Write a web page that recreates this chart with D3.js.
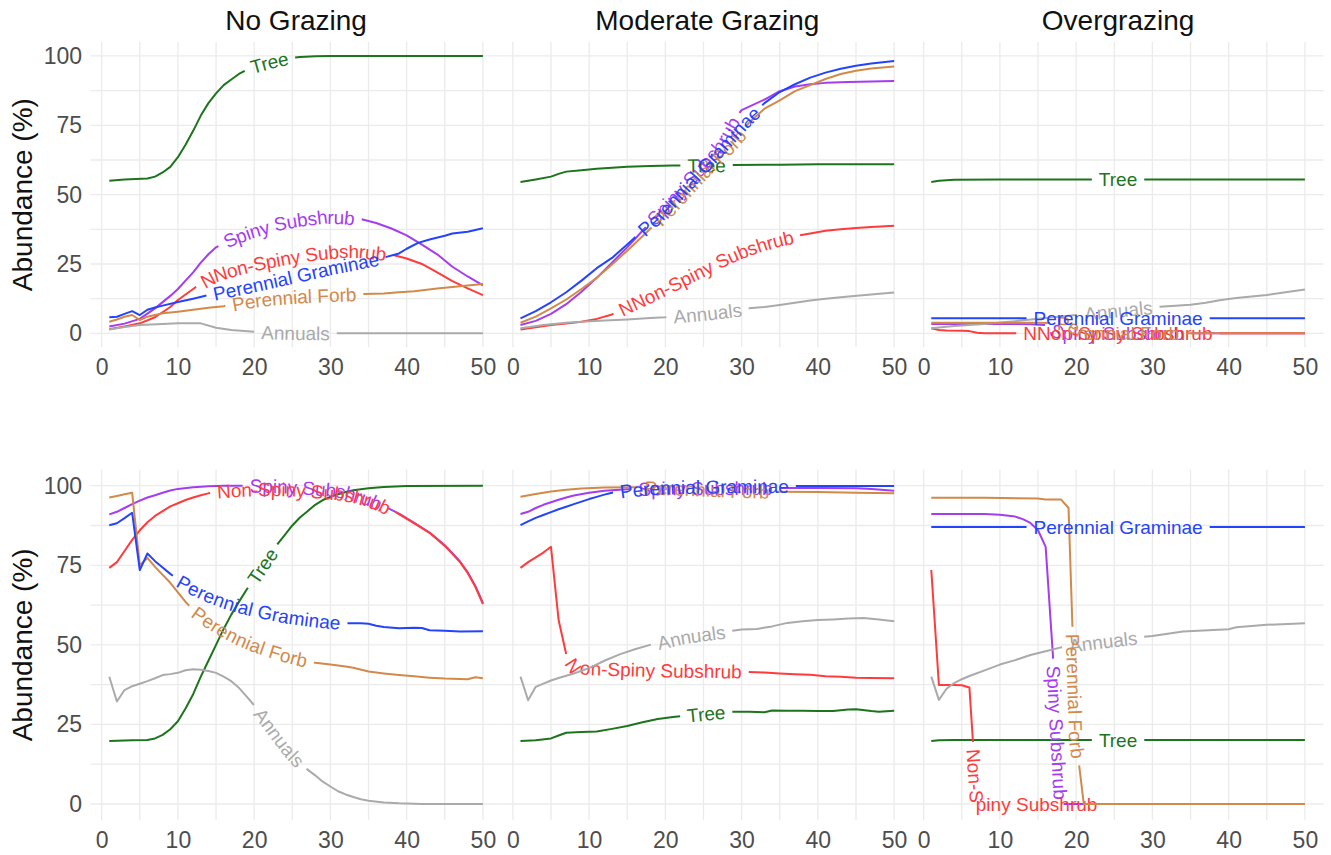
<!DOCTYPE html>
<html>
<head>
<meta charset="utf-8">
<title>Abundance under grazing scenarios</title>
<script src="https://cdn.jsdelivr.net/npm/d3@7"></script>
<style>
  body { margin: 0; background: #fff; }
  text { font-family: "Liberation Sans", Arial, Helvetica, sans-serif; }
</style>
</head>
<body>
<script>
// facet titles and axis ticks
var facetTitles = ["No Grazing", "Moderate Grazing", "Overgrazing"];
var xTicks = [0, 10, 20, 30, 40, 50];
var yTicks = [0, 25, 50, 75, 100];
var yTitle = "Abundance (%)";

// ---- top row: [year, abundance] ----
var ngTopTree = [[1,55],[3,55.5],[6,55.8],[7,56.5],[8,58],[9,60],[10,63.5],[11,68],[12,73],[13,78.5],[14,83],[15,86.5],[16,89.5],[17,91.5],[18,93.5],[19,95],[20,96.3],[22,97.8],[24,99],[26,99.6],[28,99.9],[30,100],[50,100]];
var ngTopSpiny = [[1,2.5],[3,3.5],[5,5.2],[7,9],[9,13.5],[10,16],[11,19],[12,22],[13,25.5],[14,28.5],[15,31],[17,34],[20,37],[23,39.5],[26,41],[29,42],[32,41.8],[34,41.2],[36,39.8],[38,37.8],[40,35.3],[42,32],[44,28.5],[46,24],[48,20.5],[50,17.3]];
var ngTopNonSpiny = [[1,1.5],[3,2.5],[5,3.6],[7,5.8],[9,9.5],[10,12],[11,14],[12,16],[13,18],[15,21],[18,23.5],[21,25.5],[25,27.5],[28,28.8],[31,29.6],[34,29.6],[36,29],[38,28.4],[40,27],[42,25],[44,22],[46,18.8],[48,16.2],[50,13.8]];
var ngTopGraminae = [[1,5.8],[2,6],[3,7],[4,8],[5,6.6],[6,8.5],[7,9.3],[8,10],[10,11.3],[12,12.5],[14,13.8],[16,15],[20,17.3],[25,20.3],[30,23.5],[35,26.2],[37,27.3],[39,28.8],[40,30.5],[41.5,32.6],[43,33.8],[45,35.2],[46,36],[48,36.6],[50,37.9]];
var ngTopForb = [[1,4.2],[2,5],[3,6],[4,6.6],[5,4.8],[6,6],[7,6.6],[8,7.2],[10,7.8],[12,8.5],[14,9.2],[16,9.8],[18,10.8],[20,11.8],[23,12.7],[26,13.3],[30,13.8],[34,14.2],[37,14.4],[39,14.8],[41,15.2],[44,16.2],[47,17],[50,17.8]];
var ngTopAnnuals = [[1,1.4],[3,2.3],[5,3],[8,3.4],[10,3.6],[13,3.6],[15,2],[17,1.2],[20,0.6],[23,0.3],[26,0.1],[30,0],[50,0]];

var mgTopTree = [[1,54.6],[3,55.5],[5,56.5],[6,57.5],[7,58.3],[9,58.8],[11,59.3],[13,59.7],[15,60.1],[18,60.3],[21,60.5],[25,60.6],[29,60.7],[35,60.8],[40,61],[45,61],[50,61]];
var mgTopSpiny = [[1,3],[3,4.5],[5,7],[7,10.5],[9,15],[11,20],[13,25.5],[15,31],[17,37],[19,43],[21,49],[23,55],[25,61],[27,67.5],[29,77],[30,80.5],[33,84.3],[35,87.3],[37,89],[39,89.8],[41,90.3],[44,90.6],[47,90.8],[50,91]];
var mgTopNonSpiny = [[1,1.4],[3,2.2],[5,3],[7,3.5],[9,4.2],[11,5.2],[13,6.8],[15,9.5],[17,12],[19,14.8],[21,17.5],[23,20.3],[25,23],[27,25.8],[29,28.3],[31,30.5],[33,32.3],[35,33.8],[37,35],[39,36],[41,37],[43,37.5],[45,38],[47,38.3],[50,38.8]];
var mgTopGraminae = [[1,5.4],[3,8],[5,11.2],[7,14.8],[9,19],[11,23.5],[13,27.2],[15,32],[17,37],[19,42],[21,48],[23,54],[25,60],[27,66],[29,72],[31,78],[33,83],[35,87],[37,89.8],[39,92.2],[41,94],[43,95.4],[45,96.5],[47,97.3],[50,98.2]];
var mgTopForb = [[1,3.8],[3,6],[5,9],[7,12.2],[9,16],[11,20],[13,24.8],[15,29.8],[17,35],[19,40.3],[21,46],[23,52],[25,58],[27,63.5],[29,69],[31,76],[33,81],[35,84],[37,87.3],[39,89.5],[41,91.7],[43,93.5],[45,94.7],[47,95.5],[50,96.2]];
var mgTopAnnuals = [[1,1.8],[4,3],[7,3.8],[9,4.2],[12,4.6],[15,5],[18,5.5],[20,5.8],[23,6.5],[26,7.3],[29,8.3],[31,9],[33,9.5],[35,10.2],[37,11],[39,11.8],[41,12.5],[44,13.3],[47,14],[50,14.7]];

var ogTopTree = [[1,54.6],[2,55],[4,55.4],[10,55.5],[50,55.5]];
var ogTopSpiny = [[1,3.4],[10,3.4],[14,3.3],[16,3],[17,1.5],[18,0],[50,0]];
var ogTopNonSpiny = [[1,1.8],[2,1.2],[3,1],[5,0.9],[6,0.8],[7,0.2],[8,0],[50,0]];
var ogTopGraminae = [[1,5.4],[25,5.4],[50,5.4]];
var ogTopForb = [[1,3.8],[10,3.8],[15,3.8],[18,3.7],[19,3.5],[20,2],[21,0],[50,0]];
var ogTopAnnuals = [[1,1.8],[4,2.6],[8,3.4],[12,4.4],[16,5.5],[20,6.6],[23,7.5],[26,8.4],[29,9.2],[32,9.8],[35,10.3],[37,11],[39,12],[41,12.7],[43,13.3],[45,13.8],[47,14.6],[50,15.8]];

// ---- bottom row ----
var ngBotTree = [[1,19.8],[4,20],[6,20.1],[7,20.6],[8,21.7],[9,23.5],[10,26],[11,30],[12,34.5],[13,40],[14,45],[15,50],[16,55],[17,59.5],[18,63.5],[19,67.3],[20,71],[21,74.5],[22,78],[23,81.5],[24,84.5],[25,87.5],[26,90],[27,92],[28,94],[29,95.5],[30,96.5],[31,97.3],[32,98],[33,98.6],[35,99.2],[37,99.6],[40,99.9],[50,100]];
var ngBotSpiny = [[1,91],[2,91.8],[3,93],[4,94.2],[5,95.3],[6,96.3],[7,97],[8,97.8],[9,98.5],[10,99],[12,99.5],[14,99.8],[16,100],[20,100],[24,99.8],[28,99.2],[31,98.5],[33,97.3],[35,95.8],[37,93.6],[39,91.2],[41,88.3],[43,85.3],[45,81.3],[46,78.8],[47,76.2],[48,72.8],[49,68.5],[50,63.2]];
var ngBotNonSpiny = [[1,74.2],[2,76],[3,79.5],[4,83],[5,86],[6,88.5],[7,90.5],[8,92],[9,93.5],[10,94.5],[11,95.5],[12,96.3],[13,97],[14,97.6],[16,98.3],[19,98.8],[22,99],[25,98.8],[28,98.3],[31,97.6],[33,96.8],[35,95.5],[37,93.6],[39,91.1],[41,88.2],[43,85.2],[45,81.1],[46,78.6],[47,76],[48,72.6],[49,68.3],[50,62.8]];
var ngBotGraminae = [[1,87.6],[2,88.2],[3,89.8],[4,91.5],[5,73.5],[6,78.7],[7,76.3],[8,74.3],[9,72.3],[10,70.5],[12,67.8],[14,65.5],[16,63.7],[18,62.2],[20,61],[22,60],[24,59],[26,58.3],[28,57.7],[30,57.2],[32,56.8],[34,56.8],[35,56.6],[36,56],[37,55.6],[39,55.2],[41,55.4],[42,55.3],[43,54.6],[45,54.4],[47,54.2],[50,54.3]];
var ngBotForb = [[1,96.3],[2,96.8],[3,97.3],[4,97.8],[5,75],[6,77.3],[7,74.5],[8,72],[9,69.5],[10,66.5],[11,63.5],[12,61],[14,57.5],[16,54.5],[18,52],[20,50],[22,48.3],[24,46.8],[26,45.5],[28,44.4],[30,43.8],[32,43.2],[33,42.8],[35,41.6],[37,41],[39,40.5],[41,40.1],[43,39.7],[45,39.4],[47,39.3],[48,39.2],[49,39.8],[50,39.5]];
var ngBotAnnuals = [[1,40],[2,32.2],[3,35.8],[4,37],[5,37.8],[6,38.6],[7,39.5],[8,40.5],[9,40.8],[10,41.2],[11,42],[12,42.3],[13,42.2],[14,41.8],[15,41.2],[16,40],[17,38.6],[18,36.5],[19,33.8],[20,31],[21,28],[22,24.8],[23,21.5],[24,18.5],[25,15.5],[26,13],[27,10.8],[28,9],[29,7],[30,5.5],[31,4],[32,3],[33,2.2],[34,1.5],[35,1],[37,0.5],[39,0.2],[42,0],[50,0]];

var mgBotTree = [[1,19.8],[3,20],[5,20.6],[6,21.5],[7,22.4],[9,22.6],[11,22.8],[13,23.6],[15,24.5],[17,25.7],[19,26.7],[21,27.3],[23,27.8],[25,28.3],[27,28.8],[29,29],[31,29],[33,28.8],[34,29.4],[36,29.3],[38,29.3],[40,29.2],[42,29.2],[44,29.7],[45,29.8],[47,29.2],[48,29],[50,29.3]];
var mgBotSpiny = [[1,91.1],[2,91.8],[3,93],[4,94],[5,94.8],[6,95.6],[7,96.3],[8,96.9],[10,97.8],[12,98.4],[15,98.9],[20,99.2],[30,99.3],[40,99.3],[45,99.2],[47,99],[50,98.4]];
var mgBotNonSpiny = [[1,74.2],[2,76],[3,77.5],[4,79],[5,80.8],[6,57.8],[7,47],[8,43.3],[10,42.7],[14,42.4],[18,42.1],[22,41.9],[26,41.8],[30,41.6],[33,41.3],[35,41],[37,40.8],[39,40.6],[41,40.1],[43,40],[45,39.7],[47,39.6],[50,39.5]];
var mgBotGraminae = [[1,87.6],[2,88.8],[3,89.9],[4,90.8],[5,91.7],[6,92.6],[7,93.4],[8,94.2],[9,95],[10,95.8],[11,96.5],[12,97.2],[13,97.8],[15,98.5],[18,99.2],[22,99.6],[28,99.8],[35,99.9],[50,99.9]];
var mgBotForb = [[1,96.5],[3,97.4],[5,98.2],[7,98.7],[9,99.1],[12,99.4],[16,99.5],[20,99.3],[25,98.8],[30,98.3],[35,98.1],[40,98],[45,97.8],[50,97.6]];
var mgBotAnnuals = [[1,40],[2,32.6],[3,36.8],[4,37.8],[5,38.8],[6,39.6],[7,40.3],[8,41],[10,42.7],[12,45],[14,47],[16,48.6],[18,50],[20,51],[22,52.2],[24,53],[26,53.6],[28,54.2],[30,54.8],[32,55],[34,55.8],[36,56.9],[38,57.4],[40,57.8],[42,58],[44,58.3],[46,58.4],[48,58],[50,57.4]];

var ogBotTree = [[1,19.8],[2,20],[4,20.1],[50,20.1]];
var ogBotSpiny = [[1,91.1],[8,91.1],[10,90.9],[12,90.3],[13,89.5],[14,88.3],[15,86],[16,80.8],[17,45],[18,0],[50,0]];
var ogBotNonSpiny = [[1,73.5],[2,37.4],[3,37.4],[4,37.4],[5,37.3],[6,36.6],[7,0],[50,0]];
var ogBotGraminae = [[1,87],[25,87],[50,87]];
var ogBotForb = [[1,96.2],[8,96.2],[15,96],[16,95.7],[18,95.7],[19,93],[20,20],[21,0],[50,0]];
var ogBotAnnuals = [[1,40],[2,32.7],[3,36.2],[4,38],[5,39.2],[6,40.2],[8,42],[10,43.8],[12,45.2],[14,46.8],[16,48],[18,49.2],[20,50],[22,50.6],[24,51.2],[26,51.8],[28,52.3],[30,52.8],[32,53.5],[34,54.2],[36,54.4],[38,54.7],[40,54.9],[41,55.5],[43,55.9],[45,56.3],[47,56.5],[50,56.8]];

var colors = {
  annuals: "#aaaaaa",
  nonspiny: "#ff3b3b",
  forb: "#d2894a",
  graminae: "#2443ff",
  spiny: "#a43cf2",
  tree: "#1c741c"
};

// drawing order (later = on top), as seen where lines overlap
function group(row, a, n, f, g, s, t) {
  var nsLabel = row === 0 ? "NNon-Spiny Subshrub" : "Non-Spiny Subshrub";
  return [
    {key: "tree", label: "Tree", values: t},
    {key: "spiny", label: "Spiny Subshrub", values: s},
    {key: "nonspiny", label: nsLabel, values: n},
    {key: "annuals", label: "Annuals", values: a},
    {key: "forb", label: "Perennial Forb", values: f},
    {key: "graminae", label: "Perennial Graminae", values: g}
  ];
}

var panels = [
  {row: 0, col: 0, lines: group(0, ngTopAnnuals, ngTopNonSpiny, ngTopForb, ngTopGraminae, ngTopSpiny, ngTopTree)},
  {row: 0, col: 1, lines: group(0, mgTopAnnuals, mgTopNonSpiny, mgTopForb, mgTopGraminae, mgTopSpiny, mgTopTree)},
  {row: 0, col: 2, lines: group(0, ogTopAnnuals, ogTopNonSpiny, ogTopForb, ogTopGraminae, ogTopSpiny, ogTopTree)},
  {row: 1, col: 0, lines: group(1, ngBotAnnuals, ngBotNonSpiny, ngBotForb, ngBotGraminae, ngBotSpiny, ngBotTree)},
  {row: 1, col: 1, lines: group(1, mgBotAnnuals, mgBotNonSpiny, mgBotForb, mgBotGraminae, mgBotSpiny, mgBotTree)},
  {row: 1, col: 2, lines: group(1, ogBotAnnuals, ogBotNonSpiny, ogBotForb, ogBotGraminae, ogBotSpiny, ogBotTree)}
];

var width = 1331, height = 855;
var colLeft = [90.6, 501.8, 912.6], panelW = 411;
var rowTop = [42.1, 469.8], rowBottom = [347.2, 819.9];

var svg = d3.select("body").append("svg")
    .attr("width", width)
    .attr("height", height);

panels.forEach(function (p, pi) {
  var x = d3.scaleLinear().domain([-1.45, 52.45]).range([colLeft[p.col], colLeft[p.col] + panelW]);
  var y = d3.scaleLinear().domain([-5, 105]).range([rowBottom[p.row], rowTop[p.row]]);
  var g = svg.append("g");

  // grid (major + minor)
  var gx = d3.range(0, 51, 5), gy = d3.range(0, 101, 12.5);
  g.selectAll(".vg").data(gx).enter().append("line")
      .attr("x1", x).attr("x2", x)
      .attr("y1", rowTop[p.row]).attr("y2", rowBottom[p.row])
      .attr("stroke", "#ebebeb").attr("stroke-width", 1.3);
  g.selectAll(".hg").data(gy).enter().append("line")
      .attr("x1", colLeft[p.col]).attr("x2", colLeft[p.col] + panelW)
      .attr("y1", y).attr("y2", y)
      .attr("stroke", "#ebebeb").attr("stroke-width", 1.3);

  // x axis
  var ax = g.append("g")
      .attr("transform", "translate(0," + rowBottom[p.row] + ")")
      .call(d3.axisBottom(x).tickValues(xTicks).tickSize(0).tickPadding(11.5));
  ax.select(".domain").remove();
  ax.selectAll("text").attr("font-size", 23).attr("fill", "#4d4d4d")
      .attr("font-family", "Liberation Sans, Arial, sans-serif");

  // y axis only on the first column
  if (p.col === 0) {
    var ay = g.append("g")
        .attr("transform", "translate(" + colLeft[0] + ",0)")
        .call(d3.axisLeft(y).tickValues(yTicks).tickSize(0).tickPadding(8.6));
    ay.select(".domain").remove();
    ay.selectAll("text").attr("font-size", 23).attr("fill", "#4d4d4d")
        .attr("font-family", "Liberation Sans, Arial, sans-serif");
    svg.append("text")
        .attr("transform", "translate(32," + (rowTop[p.row] + rowBottom[p.row]) / 2 + ") rotate(-90)")
        .attr("text-anchor", "middle")
        .attr("font-size", 28)
        .attr("fill", "#111")
        .text(yTitle);
  }

  if (p.row === 0) {
    svg.append("text")
        .attr("x", colLeft[p.col] + panelW / 2)
        .attr("y", 30)
        .attr("text-anchor", "middle")
        .attr("font-size", 28)
        .attr("fill", "#111")
        .text(facetTitles[p.col]);
  }

  // lines with labels along the path
  var line = d3.line().x(function (d) { return x(d[0]); }).y(function (d) { return y(d[1]); });
  p.lines.forEach(function (s, si) {
    var id = "p" + pi + "s" + si;
    var col = colors[s.key];
    var path = g.append("path")
        .attr("id", id)
        .attr("d", line(s.values))
        .attr("fill", "none")
        .attr("stroke", col)
        .attr("stroke-width", 2)
        .attr("stroke-linejoin", "round");
    var t = g.append("text")
        .attr("fill", col)
        .attr("font-size", 19)
        .attr("dominant-baseline", "central");
    t.append("textPath")
        .attr("href", "#" + id)
        .attr("startOffset", "50%")
        .attr("text-anchor", "middle")
        .text(s.label);
    var L = path.node().getTotalLength(),
        T = t.node().getComputedTextLength(),
        pad = 7;
    path.attr("stroke-dasharray", Math.max(0, L / 2 - T / 2 - pad) + " " + (T + 2 * pad) + " " + L);
  });
});
</script>
</body>
</html>
